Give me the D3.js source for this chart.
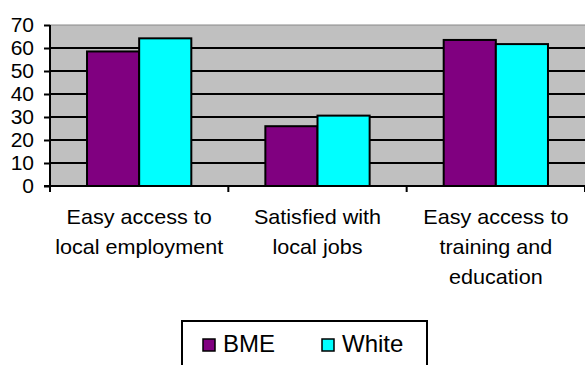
<!DOCTYPE html>
<html><head><meta charset="utf-8">
<script src="https://cdn.jsdelivr.net/npm/d3@7"></script>
<style>body{margin:0;background:#fff}svg{display:block}text{font-family:Arial,"Liberation Sans",sans-serif;fill:#000}</style>
</head><body>
<svg id="c" width="585" height="365"></svg>
<script>
const categories = [["Easy access to","local employment"],["Satisfied with","local jobs"],["Easy access to","training and","education"]];
const seriesNames = ["BME","White"];
const bme = [58.5, 26, 63.5];
const white = [64.2, 30.6, 61.7];
const yTicks = [0,10,20,30,40,50,60,70];
const colors = ["#800080","#00ffff"];

const svg = d3.select("#c");
const pLeft = 50, pRight = 585, pTop = 25, pBottom = 186;
const x = d3.scaleBand().domain(d3.range(categories.length)).range([pLeft, pRight]).paddingInner(0).paddingOuter(0);
const xs = d3.scaleBand().domain(seriesNames).range([0, x.bandwidth()]).paddingInner(0).paddingOuter(0.71);
const y = d3.scaleLinear().domain([0,70]).range([pBottom, pTop]);

svg.append("rect").attr("x", pLeft).attr("y", pTop).attr("width", pRight-pLeft).attr("height", pBottom-pTop).attr("fill", "#c0c0c0");
svg.append("line").attr("x1", pLeft).attr("x2", pRight).attr("y1", y(70)).attr("y2", y(70)).attr("stroke", "#888").attr("stroke-width", 1);
svg.selectAll(".grid").data(yTicks.filter(d => d>0 && d<70)).enter().append("line")
  .attr("x1", pLeft).attr("x2", pRight).attr("y1", d => y(d)).attr("y2", d => y(d))
  .attr("stroke", "#000").attr("stroke-width", 2);

const data = categories.map((c,i) => [bme[i], white[i]]);
const g = svg.selectAll(".cat").data(data).enter().append("g").attr("transform", (d,i) => `translate(${x(i)},0)`);
g.selectAll("rect").data(d => d.map((v,j) => ({v, s: seriesNames[j], j}))).enter().append("rect")
  .attr("x", d => xs(d.s)).attr("width", xs.bandwidth())
  .attr("y", d => y(d.v)).attr("height", d => y(0) - y(d.v))
  .attr("fill", d => colors[d.j]).attr("stroke", "#000").attr("stroke-width", 2);

// y axis
const ya = d3.axisLeft(y).tickValues(yTicks).tickSize(6).tickPadding(10);
const yg = svg.append("g").attr("transform", `translate(${pLeft},0)`).call(ya);
yg.select(".domain").remove();
yg.selectAll(".tick line").attr("stroke", "#000").attr("stroke-width", 2);
yg.selectAll(".tick text").attr("font-size", 21).attr("font-family", "Arial, 'Liberation Sans', sans-serif").attr("dy", "0.33em").attr("fill","#000");
svg.append("line").attr("x1", pLeft).attr("x2", pLeft).attr("y1", pTop).attr("y2", pBottom+6).attr("stroke", "#000").attr("stroke-width", 2);

// x axis
svg.append("line").attr("x1", pLeft-6).attr("x2", pRight).attr("y1", pBottom).attr("y2", pBottom).attr("stroke", "#000").attr("stroke-width", 2);
svg.selectAll(".xt").data(d3.range(1, categories.length+1)).enter().append("line")
  .attr("x1", i => x(0) + i*x.bandwidth()).attr("x2", i => x(0) + i*x.bandwidth())
  .attr("y1", pBottom).attr("y2", pBottom+6).attr("stroke", "#000").attr("stroke-width", 2);

const lab = svg.selectAll(".cl").data(categories).enter().append("text")
  .attr("text-anchor", "middle").attr("font-size", 20)
  .attr("transform", (d,i) => `translate(${x(i)+x.bandwidth()/2},0) scale(1.08,1)`);
lab.selectAll("tspan").data(d => d).enter().append("tspan")
  .attr("x", 0).attr("y", (d,k) => 224 + k*30).text(d => d);

// legend
const lg = svg.append("g");
lg.append("rect").attr("x", 182).attr("y", 321).attr("width", 245).attr("height", 60).attr("fill", "#fff").attr("stroke", "#000").attr("stroke-width", 2);
const lx = [203, 322];
seriesNames.forEach((s,i) => {
  lg.append("rect").attr("x", lx[i]).attr("y", 339).attr("width", 12).attr("height", 12).attr("fill", colors[i]).attr("stroke", "#000").attr("stroke-width", 1.5);
  lg.append("text").attr("x", lx[i]+20).attr("y", 352).attr("font-size", 24).text(s);
});
</script>
</body></html>
